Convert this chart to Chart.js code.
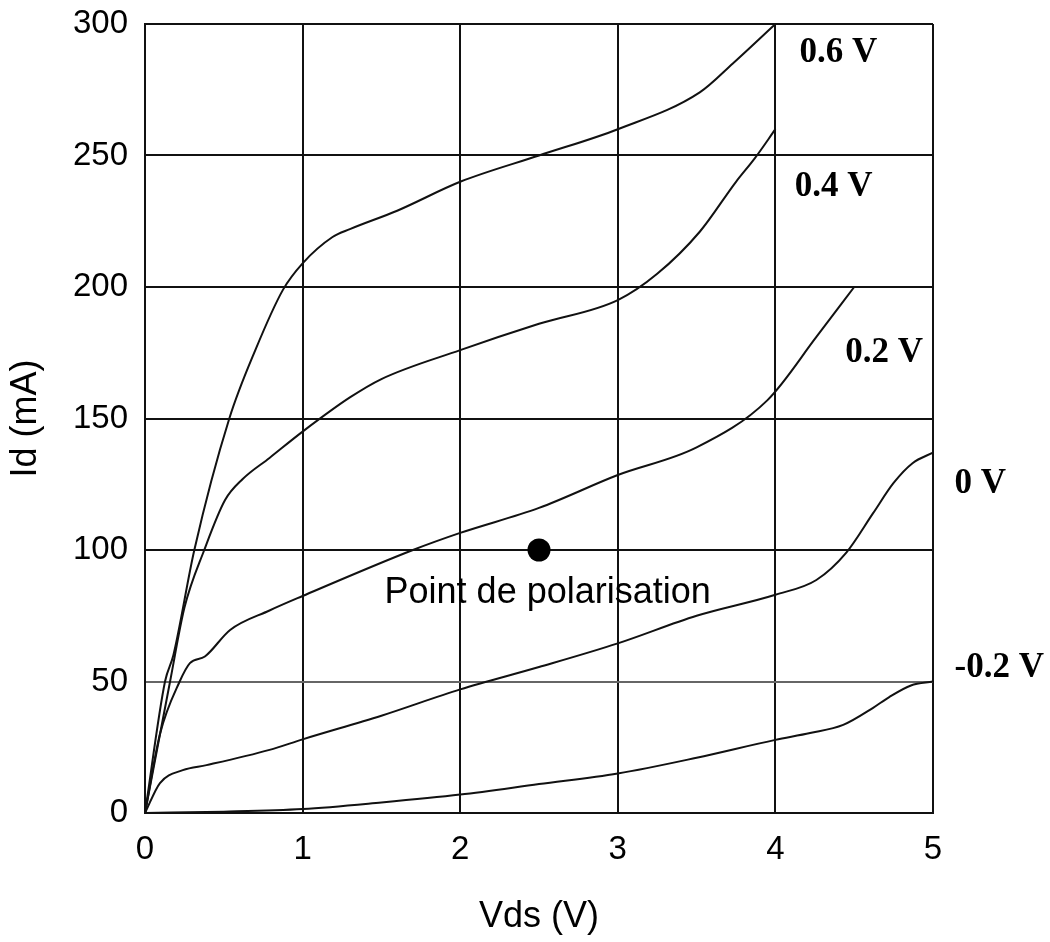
<!DOCTYPE html>
<html>
<head>
<meta charset="utf-8">
<script src="https://cdn.jsdelivr.net/npm/chart.js@4/dist/chart.umd.min.js"></script>
<style>
  body { margin: 0; background: #fff; }
  #wrap { width: 1050px; height: 942px; }
</style>
</head>
<body>
<div id="wrap"><canvas id="ivChart" width="1050" height="942"></canvas></div>
<script>
// Id(Vds) curves for several Vgs values
const vgsLabels = ['0.6 V', '0.4 V', '0.2 V', '0 V', '-0.2 V'];

const vds06 = [0, 0.127, 0.18, 0.313, 0.535, 0.7, 0.876, 1.0, 1.19, 1.3, 1.6, 2.0, 2.5, 3.0, 3.52, 3.73, 4.0];
const id06  = [0, 50, 60, 100, 150, 176, 199, 209, 219, 222, 229, 240, 250, 260, 274, 285, 300];

const vds04 = [0, 0.159, 0.25, 0.376, 0.508, 0.62, 0.79, 1.0, 1.3, 1.5, 2.0, 2.5, 3.0, 3.25, 3.52, 3.75, 3.87, 4.0];
const id04  = [0, 50, 78, 100, 119, 127, 135, 145, 158, 165, 176, 186, 195, 205, 221, 240, 249, 260];

const vds02 = [0, 0.095, 0.22, 0.285, 0.38, 0.54, 0.79, 1.0, 1.7, 2.0, 2.5, 3.0, 3.5, 3.95, 4.26, 4.5];
const id02  = [0, 30, 50, 57, 59.5, 69.6, 77, 82.5, 100, 106.5, 116, 128.5, 139, 157, 181, 200];

const vds00 = [0, 0.095, 0.24, 0.39, 0.79, 1.0, 1.5, 2.0, 2.5, 3.0, 3.5, 4.0, 4.26, 4.45, 4.62, 4.75, 4.87, 5.0];
const id00  = [0, 11.4, 16.3, 18.2, 24, 28, 37, 47, 55.5, 64.5, 75, 83, 88.6, 99, 114, 125.5, 133, 137];

const vdsM02 = [0, 0.5, 1.0, 1.5, 2.0, 2.5, 3.0, 3.5, 4.0, 4.22, 4.43, 4.62, 4.72, 4.86, 5.0];
const idM02  = [0, 0.5, 1.5, 4, 7, 11, 15, 21, 27.8, 30.4, 33.5, 40, 44, 48.5, 50];

// label anchors (Vds, Id) for each curve name
const labelVds = [4.40, 4.37, 4.69, 5.30, 5.42];
const labelId  = [289, 238, 175, 125, 55];

// operating point
const biasVds = [2.5];
const biasId  = [100];
const biasText = 'Point de polarisation';
const biasTextAt = [2.555, 83.5];

const xTicks = [0, 1, 2, 3, 4, 5];
const yTicks = [0, 50, 100, 150, 200, 250, 300];

const zip = (xs, ys) => xs.map((x, i) => ({ x, y: ys[i] }));

const curveSets = [
  zip(vds06, id06), zip(vds04, id04), zip(vds02, id02), zip(vds00, id00), zip(vdsM02, idM02)
];

const datasets = curveSets.map((pts, i) => ({
  label: vgsLabels[i],
  data: pts,
  showLine: true,
  borderColor: '#111',
  borderWidth: 2,
  pointRadius: 0,
  cubicInterpolationMode: 'monotone',
  fill: false
}));

datasets.push({
  label: 'bias',
  data: zip(biasVds, biasId),
  showLine: false,
  pointRadius: 11.5,
  pointBackgroundColor: '#000',
  pointBorderColor: '#000',
  pointBorderWidth: 0
});

const textLabels = {
  id: 'textLabels',
  afterDatasetsDraw(chart) {
    const { ctx, scales: { x, y } } = chart;
    ctx.save();
    ctx.fillStyle = '#000';
    ctx.textAlign = 'center';
    ctx.textBaseline = 'middle';
    ctx.font = 'bold 35px "Liberation Serif", "Times New Roman", serif';
    vgsLabels.forEach((t, i) => {
      ctx.fillText(t, x.getPixelForValue(labelVds[i]), y.getPixelForValue(labelId[i]));
    });
    ctx.font = '36px "Liberation Sans", Arial, sans-serif';
    ctx.fillText(biasText, x.getPixelForValue(biasTextAt[0]), y.getPixelForValue(biasTextAt[1]));
    ctx.restore();
  }
};

const tickFont = { family: '"Liberation Sans", Arial, sans-serif', size: 33 };
const titleFont = { family: '"Liberation Sans", Arial, sans-serif', size: 36 };

new Chart(document.getElementById('ivChart'), {
  type: 'scatter',
  data: { datasets },
  options: {
    responsive: false,
    animation: false,
    layout: { padding: { top: 24, right: 117, left: 0, bottom: 0 } },
    plugins: { legend: { display: false }, tooltip: { enabled: false } },
    scales: {
      x: {
        type: 'linear', min: 0, max: 5,
        afterBuildTicks: s => { s.ticks = xTicks.map(v => ({ value: v })); },
        afterFit: s => { s.height = 129; s.paddingLeft = 0; s.paddingRight = 0; },
        ticks: { color: '#000', font: tickFont, padding: 17, maxRotation: 0 },
        grid: { color: '#111', lineWidth: 2, drawTicks: false },
        border: { color: '#111', width: 2 },
        title: { display: true, text: 'Vds (V)', color: '#000', font: titleFont, padding: { top: 0, bottom: 3 } }
      },
      y: {
        type: 'linear', min: 0, max: 300,
        afterBuildTicks: s => { s.ticks = yTicks.map(v => ({ value: v })); },
        afterFit: s => { s.width = 145; s.paddingTop = 0; s.paddingBottom = 0; },
        ticks: { color: '#000', font: tickFont, padding: 17 },
        grid: { color: ctx => ctx.tick && ctx.tick.value === 50 ? '#666' : '#111', lineWidth: 2, drawTicks: false },
        border: { color: '#111', width: 2 },
        title: { display: true, text: 'Id (mA)', color: '#000', font: titleFont, padding: { top: 4, bottom: 0 } }
      }
    }
  },
  plugins: [textLabels]
});
</script>
</body>
</html>
